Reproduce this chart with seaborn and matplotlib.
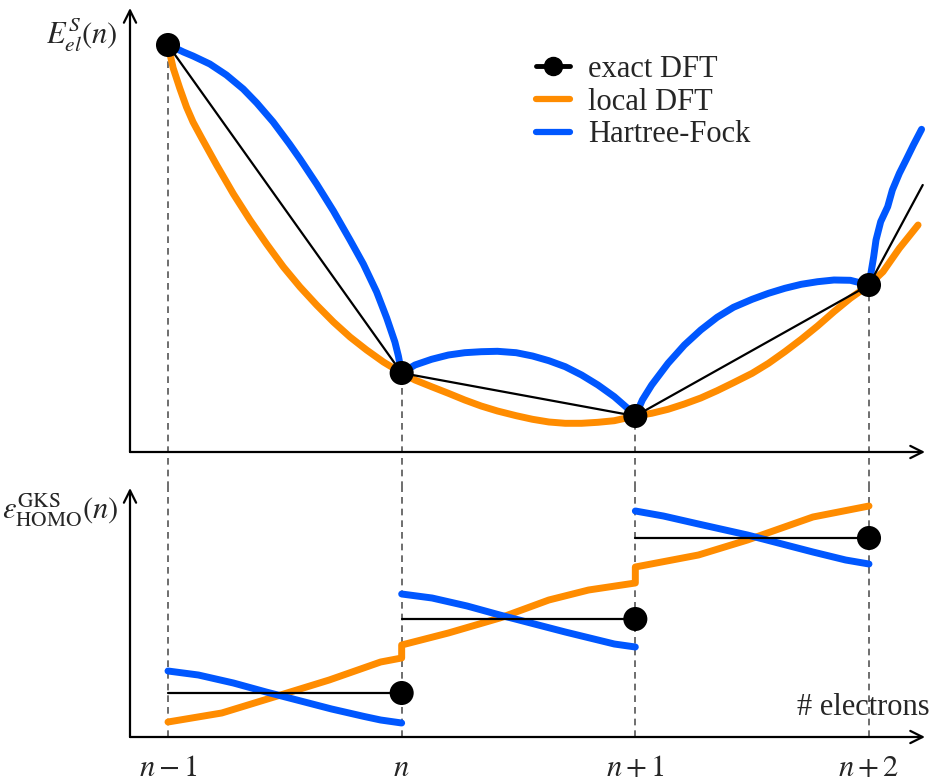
import numpy as np
import pandas as pd
import matplotlib
matplotlib.use("Agg")
import matplotlib.pyplot as plt
from matplotlib.lines import Line2D
import seaborn as sns

# ---------------- data ----------------
# electron number measured from n-1
n_points = [0, 1, 2, 3]
tick_labels = [r"$n-1$", r"$n$", r"$n+1$", r"$n+2$"]

# total energy, exact (piecewise linear between integers)
exact_E = [4.07, 0.79, 0.36, 1.67]
exact_ext_x = [3.0, 3.23]
exact_ext_E = [1.67, 2.67]

# local DFT energy (smooth, convex)
local_x = [0.0, 0.022, 0.05, 0.079, 0.107, 0.144, 0.208, 0.280, 0.351, 0.422,
           0.494, 0.565, 0.636, 0.708, 0.779, 0.850, 0.922, 1.0,
           1.057, 1.128, 1.2, 1.27, 1.34, 1.41, 1.49, 1.56, 1.63, 1.70, 1.77,
           1.84, 1.91, 2.0,
           2.07, 2.14, 2.21, 2.28, 2.35, 2.42, 2.50, 2.57, 2.64, 2.71, 2.78,
           2.85, 2.92, 3.0, 3.06, 3.13, 3.21]
local_E = [4.07, 3.84, 3.64, 3.45, 3.30, 3.14, 2.87, 2.58, 2.32, 2.08,
           1.85, 1.65, 1.47, 1.30, 1.15, 1.02, 0.90, 0.79,
           0.72, 0.653, 0.587, 0.52, 0.46, 0.41, 0.363, 0.327, 0.30, 0.287, 0.287,
           0.297, 0.313, 0.36,
           0.387, 0.427, 0.48, 0.54, 0.613, 0.693, 0.787, 0.887, 1.003, 1.127, 1.26,
           1.403, 1.537, 1.67, 1.803, 2.037, 2.27]

# Hartree-Fock energy (concave pieces between integers)
hf_x = [[0.0, 0.022, 0.066, 0.107, 0.179, 0.25, 0.322, 0.38, 0.45, 0.52, 0.565,
         0.636, 0.708, 0.779, 0.836, 0.893, 0.936, 0.971, 0.986, 1.0],
        [1.0, 1.057, 1.128, 1.2, 1.27, 1.34, 1.41, 1.49, 1.56, 1.63, 1.70,
         1.77, 1.84, 1.91, 1.967, 2.0],
        [2.0, 2.03, 2.07, 2.14, 2.21, 2.28, 2.35, 2.42, 2.50, 2.57, 2.64, 2.71,
         2.78, 2.85, 2.92, 3.0],
        [3.0, 3.02, 3.03, 3.05, 3.08, 3.10, 3.13, 3.16, 3.19, 3.225]]
hf_E = [[4.07, 4.05, 4.00, 3.96, 3.88, 3.77, 3.63, 3.49, 3.30, 3.08, 2.93,
         2.68, 2.41, 2.12, 1.88, 1.60, 1.34, 1.10, 0.96, 0.79],
        [0.79, 0.87, 0.927, 0.97, 0.993, 1.003, 1.007, 0.993, 0.96, 0.913, 0.853,
         0.77, 0.67, 0.553, 0.437, 0.36],
        [0.36, 0.52, 0.67, 0.887, 1.07, 1.22, 1.347, 1.447, 1.527, 1.587, 1.637,
         1.677, 1.703, 1.72, 1.717, 1.67],
        [1.67, 1.953, 2.12, 2.303, 2.453, 2.62, 2.787, 2.927, 3.07, 3.227]]

# HOMO eigenvalues
exact_eps = [0.44, 1.18, 1.99]

local_eps_x = [0.0, 0.23, 0.44, 0.69, 0.91, 1.0,
               1.0, 1.2, 1.42, 1.63, 1.8, 2.0,
               2.0, 2.27, 2.48, 2.76, 3.0]
local_eps = [0.15, 0.24, 0.39, 0.57, 0.75, 0.79,
             0.92, 1.04, 1.19, 1.37, 1.47, 1.54,
             1.70, 1.82, 1.97, 2.20, 2.31]

hf_eps_x = [[0.0, 0.13, 0.28, 0.42, 0.56, 0.7, 0.84, 0.91, 1.0],
            [1.0, 1.13, 1.28, 1.42, 1.56, 1.7, 1.84, 1.91, 2.0],
            [2.0, 2.12, 2.27, 2.48, 2.62, 2.76, 2.9, 3.0]]
hf_eps = [[0.66, 0.62, 0.54, 0.45, 0.365, 0.28, 0.205, 0.17, 0.14],
          [1.43, 1.39, 1.31, 1.22, 1.135, 1.05, 0.97, 0.93, 0.90],
          [2.26, 2.21, 2.13, 2.02, 1.935, 1.85, 1.77, 1.73]]

# ---------------- style ----------------
sns.set_style("white")
plt.rcParams["font.family"] = ["Liberation Serif", "DejaVu Serif"]
plt.rcParams["mathtext.fontset"] = "stix"

ORANGE = "#ff8c00"
BLUE = "#0057ff"
GREY = "#555555"
FS = 22
THICK = 5.0

W, H = 932, 782
fig = plt.figure(figsize=(W / 100, H / 100), dpi=100)


def rect(left, top, right, bottom):
    return [left / W, 1 - bottom / H, (right - left) / W, (bottom - top) / H]


ax_top = fig.add_axes(rect(130, 8, 925, 452))
ax_bot = fig.add_axes(rect(130, 488, 925, 737))

px_per_unit = (869 - 168) / 3
xlim = ((130 - 168) / px_per_unit, (925 - 168) / px_per_unit)
ax_top.set_xlim(*xlim)
ax_bot.set_xlim(*xlim)
ax_top.set_ylim(0, 4.44)
ax_bot.set_ylim(0, 2.49)

for ax in (ax_top, ax_bot):
    for s in ax.spines.values():
        s.set_visible(False)
    ax.set_yticks([])
    arrow = dict(arrowstyle="->", lw=1.6, color="black", mutation_scale=22,
                 shrinkA=0, shrinkB=0)
    ax.annotate("", xy=(1, 0), xytext=(0, 0), xycoords="axes fraction",
                arrowprops=arrow)
    ax.annotate("", xy=(0, 1), xytext=(0, 0), xycoords="axes fraction",
                arrowprops=arrow)

# dashed guides at integer electron numbers
ax_top.vlines(n_points, -0.36, exact_E, colors=GREY, linestyles=(0, (4, 3)),
              lw=1.2, clip_on=False, zorder=1)
ax_bot.vlines(n_points, 0, 2.49, colors=GREY, linestyles=(0, (4, 3)),
              lw=1.2, clip_on=False, zorder=1)

# ---- top panel: energies ----
line_kw = dict(estimator=None, sort=False, legend=False)

sns.lineplot(x=local_x, y=local_E, ax=ax_top, color=ORANGE, lw=THICK,
             solid_capstyle="round", solid_joinstyle="round", zorder=3, **line_kw)
for xs, ys in zip(hf_x, hf_E):
    sns.lineplot(x=xs, y=ys, ax=ax_top, color=BLUE, lw=THICK,
                 solid_capstyle="round", solid_joinstyle="round", zorder=4,
                 **line_kw)
sns.lineplot(x=n_points, y=exact_E, ax=ax_top, color="black", lw=1.6,
             zorder=5, **line_kw)
sns.lineplot(x=exact_ext_x, y=exact_ext_E, ax=ax_top, color="black", lw=1.6,
             zorder=5, **line_kw)
sns.scatterplot(x=n_points, y=exact_E, ax=ax_top, color="black", s=300,
                edgecolor="none", zorder=6, legend=False)

# ---- bottom panel: HOMO eigenvalues ----
sns.lineplot(x=local_eps_x, y=local_eps, ax=ax_bot, color=ORANGE, lw=THICK,
             solid_capstyle="round", zorder=3, **line_kw)
for xs, ys in zip(hf_eps_x, hf_eps):
    sns.lineplot(x=xs, y=ys, ax=ax_bot, color=BLUE, lw=THICK,
                 solid_capstyle="round", solid_joinstyle="round", zorder=4,
                 **line_kw)
for i, level in enumerate(exact_eps):
    sns.lineplot(x=[n_points[i], n_points[i + 1]], y=[level, level], ax=ax_bot,
                 color="black", lw=1.6, zorder=5, **line_kw)
sns.scatterplot(x=n_points[1:], y=exact_eps, ax=ax_bot, color="black", s=300,
                edgecolor="none", zorder=6, legend=False)

ax_top.set_xticks([])
ax_bot.set_xticks(n_points)
ax_bot.set_xticklabels(tick_labels)
ax_bot.tick_params(axis="x", length=0, pad=12, labelsize=FS)

ax_top.set_xlabel("")
ax_bot.set_xlabel("")

# axis titles
ax_top.text(-0.015, 0.94, r"$E_{el}^{S}(n)$", transform=ax_top.transAxes,
            ha="right", va="center", fontsize=FS)
ax_bot.text(-0.015, 0.91, r"$\varepsilon_{\mathrm{HOMO}}^{\mathrm{GKS}}(n)$",
            transform=ax_bot.transAxes, ha="right", va="center", fontsize=FS)
ax_bot.text(1.006, 0.12, "# electrons", transform=ax_bot.transAxes,
            ha="right", va="center", fontsize=FS)

# legend
handles = [
    Line2D([], [], color="black", lw=3.5, marker="o", markersize=13),
    Line2D([], [], color=ORANGE, lw=4.5),
    Line2D([], [], color=BLUE, lw=4.5),
]
labels = ["exact DFT", "local DFT", "Hartree-Fock"]
fig.legend(handles, labels, loc="upper left", bbox_to_anchor=(536 / W, 1 - 55 / H),
           frameon=False, fontsize=FS, handlelength=1.1, handletextpad=0.6,
           labelspacing=0.12, borderpad=0, borderaxespad=0)

fig.savefig("out.png", dpi=100)
